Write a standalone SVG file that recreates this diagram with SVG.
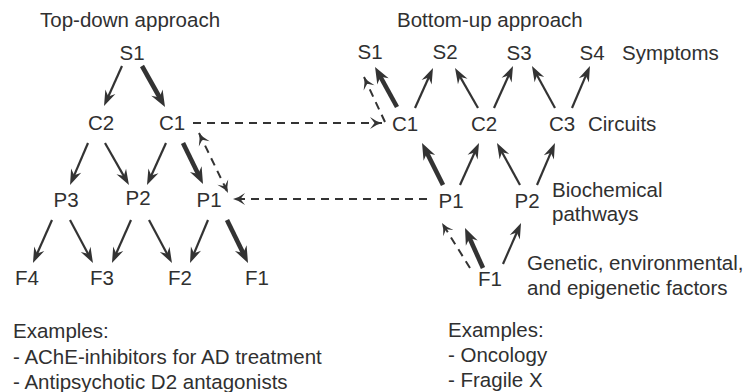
<svg xmlns="http://www.w3.org/2000/svg" width="752" height="392" viewBox="0 0 752 392">
  <defs>
    <style>
      text { font-family: "Liberation Sans", Arial, sans-serif; font-size: 20.5px; fill: #303030; }
      .node text { text-anchor: middle; }
      .ln { fill: none; stroke: #333; stroke-width: 2.2; marker-end: url(#head); }
      .thick { fill: none; stroke: #333; stroke-width: 4.6; marker-end: url(#headBig); }
      .dash { fill: none; stroke: #333; stroke-width: 2; stroke-dasharray: 8 6; marker-end: url(#open); }
      .both { marker-start: url(#openStart); }
    </style>
    <!-- filled barbed head; tip sits 8px beyond the line end -->
    <marker id="head" markerUnits="userSpaceOnUse" viewBox="-12 -8 24 16" markerWidth="24" markerHeight="16" refX="0" refY="0" orient="auto" overflow="visible">
      <path d="M8,0 L-7.5,-5.5 L-2.5,0 L-7.5,5.5 Z" fill="#333"/>
    </marker>
    <marker id="headBig" markerUnits="userSpaceOnUse" viewBox="-12 -8 24 16" markerWidth="24" markerHeight="16" refX="0" refY="0" orient="auto" overflow="visible">
      <path d="M8,0 L-8.5,-6.5 L-3,0 L-8.5,6.5 Z" fill="#333"/>
    </marker>
    <!-- slim barbed head for dashed links; tip at line end -->
    <marker id="open" markerUnits="userSpaceOnUse" viewBox="-14 -8 16 16" markerWidth="16" markerHeight="16" refX="0" refY="0" orient="auto" overflow="visible">
      <path d="M0,0 Q-6,-1.5 -12,-6 L-7.5,0 L-12,6 Q-6,1.5 0,0 Z" fill="#333"/>
    </marker>
    <marker id="openStart" markerUnits="userSpaceOnUse" viewBox="-14 -8 16 16" markerWidth="16" markerHeight="16" refX="0" refY="0" orient="auto-start-reverse" overflow="visible">
      <path d="M0,0 Q-6,-1.5 -12,-6 L-7.5,0 L-12,6 Q-6,1.5 0,0 Z" fill="#333"/>
    </marker>
  </defs>

  <rect width="752" height="392" fill="#ffffff"/>

  <!-- headings and captions -->
  <g id="labels">
    <text x="40" y="27">Top-down approach</text>
    <text x="397" y="27">Bottom-up approach</text>
    <text x="622" y="60">Symptoms</text>
    <text x="588" y="131">Circuits</text>
    <text x="552" y="197">Biochemical</text>
    <text x="552" y="221">pathways</text>
    <text x="527" y="270">Genetic, environmental,</text>
    <text x="527" y="295">and epigenetic factors</text>
    <text x="13" y="338">Examples:</text>
    <text x="13" y="364">- AChE-inhibitors for AD treatment</text>
    <text x="13" y="389">- Antipsychotic D2 antagonists</text>
    <text x="448" y="337">Examples:</text>
    <text x="448" y="362">- Oncology</text>
    <text x="448" y="387">- Fragile X</text>
  </g>

  <!-- top-down tree -->
  <g id="td-S1" class="node"><text x="132" y="60">S1</text></g>
  <g id="td-C2" class="node"><text x="101" y="130">C2</text></g>
  <g id="td-C1" class="node"><text x="172" y="130">C1</text></g>
  <g id="td-P3" class="node"><text x="66" y="207">P3</text></g>
  <g id="td-P2" class="node"><text x="138" y="205">P2</text></g>
  <g id="td-P1" class="node"><text x="209" y="207">P1</text></g>
  <g id="td-F4" class="node"><text x="27" y="285">F4</text></g>
  <g id="td-F3" class="node"><text x="102" y="285">F3</text></g>
  <g id="td-F2" class="node"><text x="180" y="285">F2</text></g>
  <g id="td-F1" class="node"><text x="257" y="285">F1</text></g>

  <!-- bottom-up tree -->
  <g id="bu-S1" class="node"><text x="370" y="59">S1</text></g>
  <g id="bu-S2" class="node"><text x="445" y="59">S2</text></g>
  <g id="bu-S3" class="node"><text x="519" y="60">S3</text></g>
  <g id="bu-S4" class="node"><text x="592" y="60">S4</text></g>
  <g id="bu-C1" class="node"><text x="405" y="131">C1</text></g>
  <g id="bu-C2" class="node"><text x="484" y="131">C2</text></g>
  <g id="bu-C3" class="node"><text x="562" y="131">C3</text></g>
  <g id="bu-P1" class="node"><text x="451" y="208">P1</text></g>
  <g id="bu-P2" class="node"><text x="527" y="208">P2</text></g>
  <g id="bu-F1" class="node"><text x="490" y="286">F1</text></g>

  <g id="connectors">
    <!-- top-down -->
    <path class="ln" d="M122,66 L107.3,98.7"/>
    <path class="thick" d="M142,66 L161.1,100"/>
    <path class="ln" d="M88,143 L73.2,177.6"/>
    <path class="ln" d="M105,143 L125,178.1"/>
    <path class="ln" d="M166,143 L150.3,177.7"/>
    <path class="thick" d="M183,143 L199.5,176.8"/>
    <path class="ln" d="M52,220 L36.2,255.7"/>
    <path class="ln" d="M70,220 L89.2,256"/>
    <path class="ln" d="M131,220 L115.2,255.7"/>
    <path class="ln" d="M149,220 L168.2,256"/>
    <path class="ln" d="M208,220 L193.1,255.6"/>
    <path class="thick" d="M227,220 L244.5,255.8"/>
    <path class="dash both" d="M199,133 L228,193"/>

    <!-- links between the two trees -->
    <path class="dash" d="M193,123 L382,123"/>
    <path class="dash" d="M427,199 L233,199"/>

    <!-- bottom-up -->
    <path class="thick" d="M397,107 L378.9,74"/>
    <path class="dash" d="M385,122 L364,77"/>
    <path class="ln" d="M415,108 L429.7,75.3"/>
    <path class="ln" d="M478,108 L459,74.9"/>
    <path class="ln" d="M494,108 L509.7,73.3"/>
    <path class="ln" d="M555,108 L535.8,73"/>
    <path class="ln" d="M572,108 L586.8,73.4"/>
    <path class="thick" d="M443,185 L425.6,150.2"/>
    <path class="ln" d="M460,185 L475.7,150.3"/>
    <path class="ln" d="M520,185 L500.8,150"/>
    <path class="ln" d="M537,185 L551.8,150.4"/>
    <path class="thick" d="M483,268 L468.3,235.3"/>
    <path class="dash" d="M470,268 L442,223"/>
    <path class="ln" d="M503,264 L517.8,230.3"/>
  </g>
</svg>
